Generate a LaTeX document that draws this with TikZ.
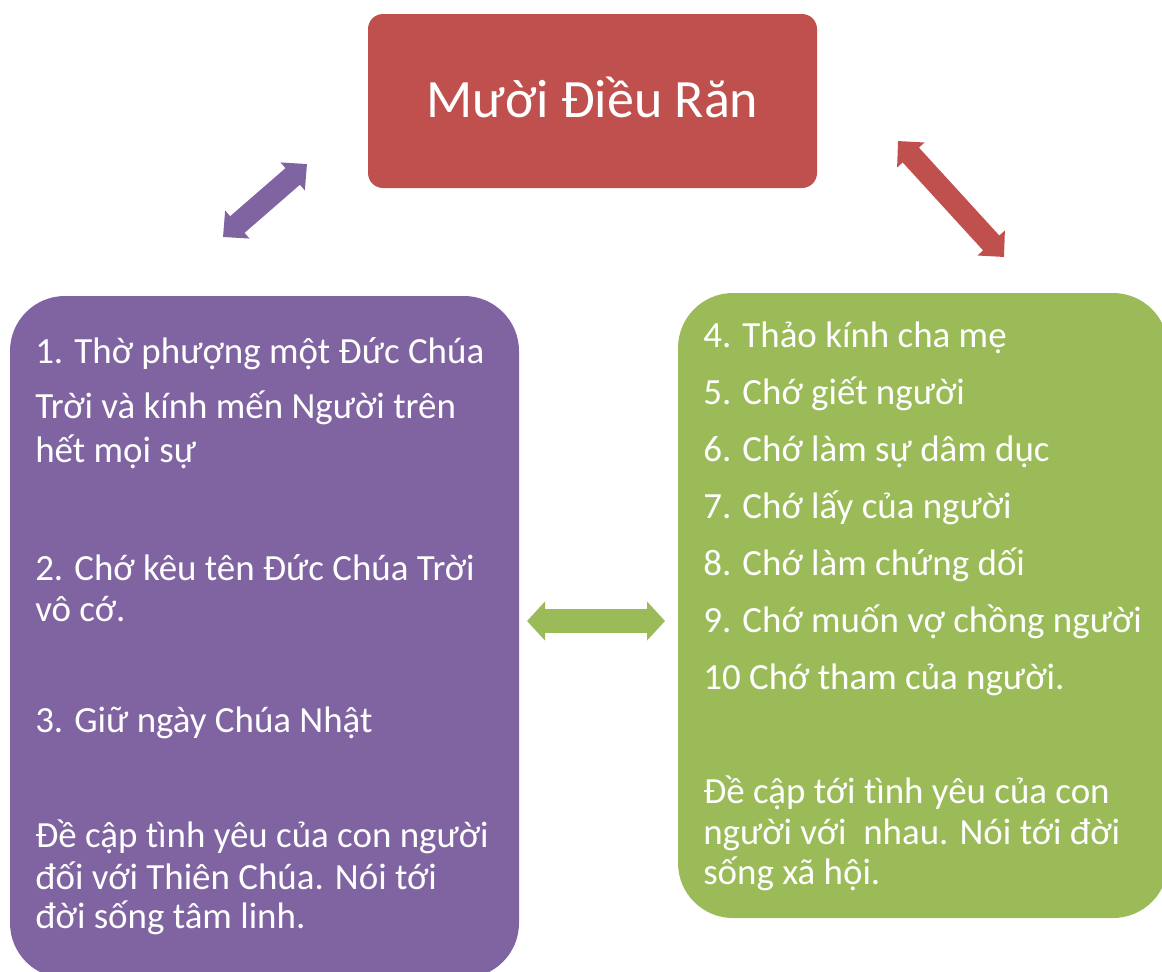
\documentclass[tikz,border=0pt]{standalone}
\usepackage{fontspec}
\setmainfont{Carlito}[Ligatures=NoCommon]
\usetikzlibrary{arrows.meta}
\definecolor{cred}{HTML}{C0504D}
\definecolor{cpurple}{HTML}{8064A2}
\definecolor{cgreen}{HTML}{9BBB59}
\begin{document}
\begin{tikzpicture}[x=0.75pt,y=-0.75pt,
  box/.style={draw=none,inner sep=0pt,rounded corners=41.25pt},
  txt/.style={anchor=base west,inner sep=0pt,text=white,font=\fontsize{27.7}{33}\selectfont},
  blockarrow/.style={line join=miter}
]
\useasboundingbox (0,0) rectangle (1162,971);
% boxes
\node[box,fill=cred,rounded corners=11.25pt,minimum width=336.75pt,minimum height=130.5pt,
  text=white,font=\fontsize{40.5}{48}\selectfont,text height=24pt,text depth=0pt]
  (title) at (592.5,101) {Mười Điều Răn};
\node[box,fill=cpurple,minimum width=381.75pt,minimum height=511.5pt] (left) at (264.5,637) {};
\node[box,fill=cgreen,minimum width=367.5pt,minimum height=468.75pt] (right) at (923,605.5) {};
% left texts
\node[txt] (l1) at (35,363) {1. Thờ phượng một Đức Chúa};
\node[txt] (l2) at (35,418) {Trời và kính mến Người trên};
\node[txt] (l3) at (35,462) {hết mọi sự};
\node[txt] (l4) at (35,580) {2. Chớ kêu tên Đức Chúa Trời};
\node[txt] (l5) at (35,621) {vô cớ.};
\node[txt] (l6) at (35,732) {3. Giữ ngày Chúa Nhật};
\node[txt] (l7) at (35,847) {Đề cập tình yêu của con người};
\node[txt] (l8) at (35,889) {đối với Thiên Chúa. Nói tới};
\node[txt] (l9) at (35,928) {đời sống tâm linh.};
% right texts
\node[txt] (r1) at (703,347) {4. Thảo kính cha mẹ};
\node[txt] (r2) at (703,404) {5. Chớ giết người};
\node[txt] (r3) at (703,461) {6. Chớ làm sự dâm dục};
\node[txt] (r4) at (703,518) {7. Chớ lấy của người};
\node[txt] (r5) at (703,575) {8. Chớ làm chứng dối};
\node[txt] (r6) at (703,632) {9. Chớ muốn vợ chồng người};
\node[txt] (r7) at (703,689) {10 Chớ tham của người.};
\node[txt] (r8) at (703,803) {Đề cập tới tình yêu của con};
\node[txt] (r9) at (703,844) {người với\ \ nhau. Nói tới đời};
\node[txt] (r10) at (703,884) {sống xã hội.};
% arrow end points
\coordinate (pa) at (223,237);
\coordinate (pb) at (307,164);
\coordinate (ra) at (898,141);
\coordinate (rb) at (1004,257);
\coordinate (ga) at (527,621);
\coordinate (gb) at (665,621);
\draw[blockarrow,cpurple,line width=16.5pt,
  {Triangle[length=14.25pt,width=27pt]}-{Triangle[length=14.25pt,width=27pt]}] (pa) -- (pb);
\draw[blockarrow,cred,line width=16.5pt,
  {Triangle[length=14.25pt,width=27pt]}-{Triangle[length=14.25pt,width=27pt]}] (ra) -- (rb);
\draw[blockarrow,cgreen,line width=18pt,
  {Triangle[length=13.5pt,width=28.5pt]}-{Triangle[length=13.5pt,width=28.5pt]}] (ga) -- (gb);
\end{tikzpicture}
\end{document}
